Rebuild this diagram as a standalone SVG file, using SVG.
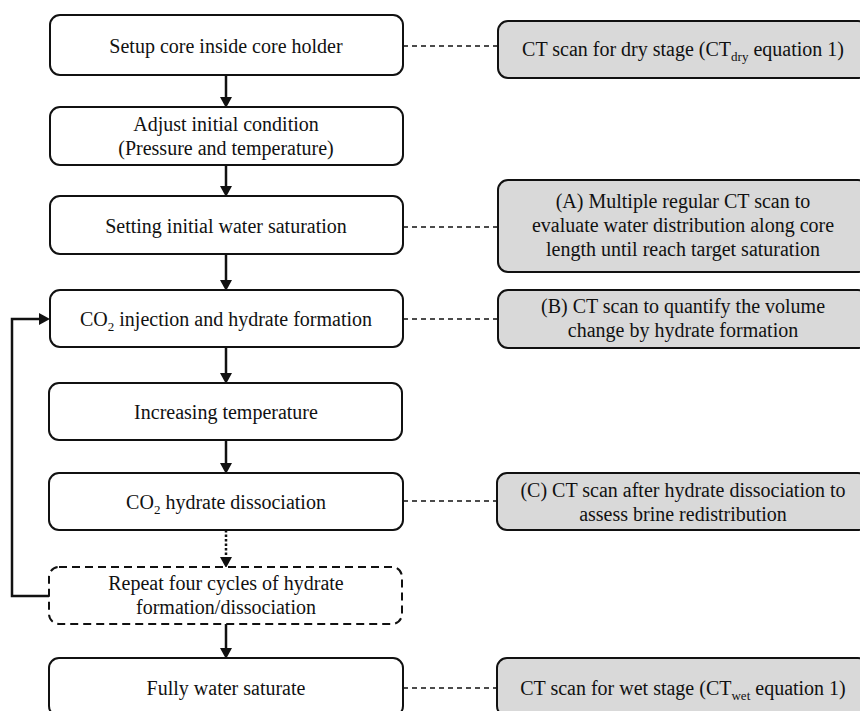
<svg xmlns="http://www.w3.org/2000/svg" width="860" height="711" viewBox="0 0 860 711">
<style>
text{font-family:"Liberation Serif","Times New Roman",serif;font-size:20px;fill:#111;text-anchor:middle}
.sub{font-size:13px}
.step{fill:#fff;stroke:#111;stroke-width:2}
.dash{stroke-dasharray:8 5}
.note{fill:#d9d9d9;stroke:#111;stroke-width:2}
.flow{fill:none;stroke:#111;stroke-width:2.5}
.dot{stroke-dasharray:2.5 2}
.link{fill:none;stroke:#111;stroke-width:1.3;stroke-dasharray:5 4}
</style>
<defs>
<marker id="ah" markerUnits="userSpaceOnUse" markerWidth="11" markerHeight="12" refX="0" refY="6" orient="auto" viewBox="0 0 11 12">
<path d="M0,0 L11,6 L0,12 z" fill="#111"/>
</marker>
</defs>
<g id="connectors">
<path class="flow" d="M226,75 V97" marker-end="url(#ah)"/>
<path class="flow" d="M226,165 V186" marker-end="url(#ah)"/>
<path class="flow" d="M226,254 V280" marker-end="url(#ah)"/>
<path class="flow" d="M226,347 V373" marker-end="url(#ah)"/>
<path class="flow" d="M226,440 V463" marker-end="url(#ah)"/>
<path class="flow dot" d="M226,530 V557" marker-end="url(#ah)"/>
<path class="flow" d="M226,624 V648" marker-end="url(#ah)"/>
<path class="flow" d="M49,596 H12 V319 H39" marker-end="url(#ah)"/>
<path class="link" d="M403,46 H498"/>
<path class="link" d="M403,227 H498"/>
<path class="link" d="M403,319 H498"/>
<path class="link" d="M403,501 H497"/>
<path class="link" d="M403,688 H497"/>
</g>
<g id="n1"><rect class="step" x="50" y="15" width="353" height="60" rx="10"/><text x="226" y="53">Setup core inside core holder</text></g>
<g id="n2"><rect class="step" x="50" y="107" width="353" height="58" rx="10"/><text x="226" y="131">Adjust initial condition</text><text x="226" y="155">(Pressure and temperature)</text></g>
<g id="n3"><rect class="step" x="50" y="196" width="353" height="58" rx="10"/><text x="226" y="233">Setting initial water saturation</text></g>
<g id="n4"><rect class="step" x="50" y="290" width="353" height="57" rx="10"/><text x="226" y="326">CO<tspan class="sub" dy="5">2</tspan><tspan dy="-5"> injection and hydrate formation</tspan></text></g>
<g id="n5"><rect class="step" x="49" y="383" width="353" height="57" rx="10"/><text x="226" y="419">Increasing temperature</text></g>
<g id="n6"><rect class="step" x="49" y="473" width="354" height="57" rx="10"/><text x="226" y="509">CO<tspan class="sub" dy="5">2</tspan><tspan dy="-5"> hydrate dissociation</tspan></text></g>
<g id="n7"><rect class="step dash" x="49" y="567" width="353" height="57" rx="10"/><text x="226" y="590">Repeat four cycles of hydrate</text><text x="226" y="614">formation/dissociation</text></g>
<g id="n8"><rect class="step" x="49" y="658" width="354" height="58" rx="10"/><text x="226" y="695">Fully water saturate</text></g>
<g id="r1"><rect class="note" x="498" y="21" width="370" height="57" rx="10"/><text x="683" y="56">CT scan for dry stage (CT<tspan class="sub" dy="5">dry</tspan><tspan dy="-5"> equation 1)</tspan></text></g>
<g id="r2"><rect class="note" x="498" y="180" width="370" height="92" rx="10"/><text x="683" y="208">(A)  Multiple regular CT scan to</text><text x="683" y="232">evaluate water distribution along core</text><text x="683" y="256">length until reach target saturation</text></g>
<g id="r3"><rect class="note" x="498" y="290" width="370" height="58" rx="10"/><text x="683" y="313">(B) CT scan to quantify the volume</text><text x="683" y="337">change by hydrate formation</text></g>
<g id="r4"><rect class="note" x="497" y="473" width="371" height="57" rx="10"/><text x="683" y="497">(C) CT scan after hydrate dissociation to</text><text x="683" y="521">assess brine redistribution</text></g>
<g id="r5"><rect class="note" x="497" y="658" width="371" height="58" rx="10"/><text x="683" y="695">CT scan for wet stage (CT<tspan class="sub" dy="5">wet</tspan><tspan dy="-5"> equation 1)</tspan></text></g>
</svg>
